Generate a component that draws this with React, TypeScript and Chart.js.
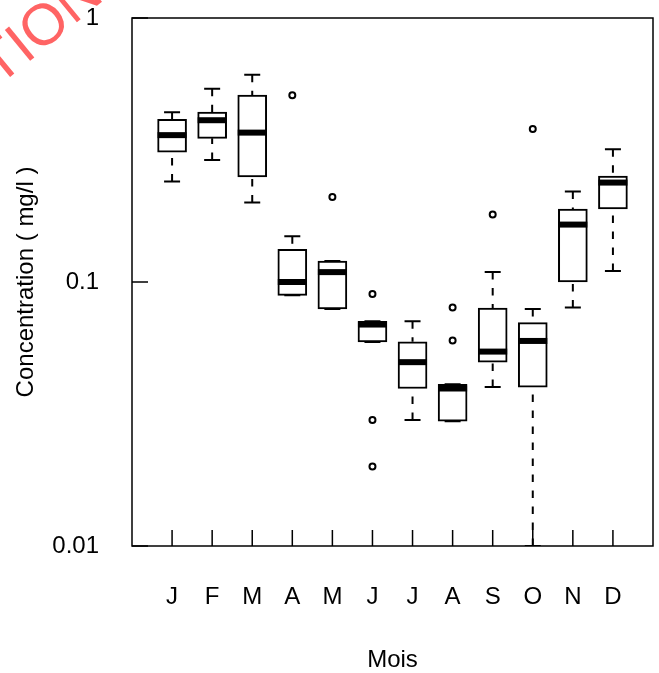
import { useEffect, useRef } from 'react';
import { Chart, registerables } from 'chart.js';

Chart.register(...registerables);

// Monthly concentration summary (five-number summaries per month, mg/l)
const months = ['J', 'F', 'M', 'A', 'M', 'J', 'J', 'A', 'S', 'O', 'N', 'D'];
const whiskerHigh = [0.44, 0.54, 0.61, 0.149, 0.12, 0.071, 0.071, 0.041, 0.109, 0.079, 0.22, 0.318];
const upperQuartile = [0.413, 0.44, 0.51, 0.133, 0.12, 0.071, 0.0594, 0.041, 0.0797, 0.0702, 0.189, 0.252];
const medians = [0.36, 0.41, 0.368, 0.1, 0.109, 0.069, 0.0497, 0.0395, 0.0545, 0.0598, 0.165, 0.238];
const lowerQuartile = [0.31, 0.35, 0.25, 0.089, 0.079, 0.0593, 0.0395, 0.0297, 0.0497, 0.04, 0.1, 0.189];
const whiskerLow = [0.24, 0.29, 0.2, 0.089, 0.079, 0.0593, 0.03, 0.0297, 0.04, 0.01, 0.08, 0.11];

// Outliers: month number (1-12) and value
const outlierMonth = [4, 5, 6, 6, 6, 8, 8, 9, 10];
const outlierValue = [0.51, 0.21, 0.09, 0.03, 0.02, 0.08, 0.06, 0.18, 0.38];

const yTickValues = [0.01, 0.1, 1];
const yTickLabels = ['0.01', '0.1', '1'];
const yTitle = 'Concentration ( mg/l )';
const xTitle = 'Mois';
const stampText = 'TION';

const FONT = '"Liberation Sans", Arial, Helvetica, sans-serif';
const FONT_SIZE = 24;

const boxplotExtras = {
  id: 'boxplotExtras',
  beforeDatasetsDraw(chart: any) {
    const { ctx, chartArea, scales } = chart;
    const x = scales.x;
    const y = scales.y;
    ctx.save();
    ctx.beginPath();
    ctx.rect(chartArea.left, chartArea.top, chartArea.right - chartArea.left, chartArea.bottom - chartArea.top);
    ctx.clip();
    ctx.strokeStyle = '#000';
    ctx.lineWidth = 2;
    ctx.setLineDash([7.5, 8.5]);
    months.forEach((_, i) => {
      const px = x.getPixelForValue(i + 1);
      // whiskers run from their end toward the box
      if (whiskerHigh[i] > upperQuartile[i]) {
        ctx.beginPath();
        ctx.moveTo(px, y.getPixelForValue(whiskerHigh[i]));
        ctx.lineTo(px, y.getPixelForValue(upperQuartile[i]));
        ctx.stroke();
      }
      if (whiskerLow[i] < lowerQuartile[i]) {
        ctx.beginPath();
        ctx.moveTo(px, y.getPixelForValue(whiskerLow[i]));
        ctx.lineTo(px, y.getPixelForValue(lowerQuartile[i]));
        ctx.stroke();
      }
    });
    ctx.restore();
  },
  afterDatasetsDraw(chart: any) {
    const { ctx, chartArea, scales } = chart;
    const x = scales.x;
    const y = scales.y;
    const boxHalf = 14.5;
    const capHalf = 8;
    ctx.save();
    ctx.beginPath();
    ctx.rect(chartArea.left, chartArea.top, chartArea.right - chartArea.left, chartArea.bottom - chartArea.top);
    ctx.clip();
    ctx.strokeStyle = '#000';
    months.forEach((_, i) => {
      const px = x.getPixelForValue(i + 1);
      // staples
      ctx.lineWidth = 2;
      ctx.beginPath();
      const hi = y.getPixelForValue(whiskerHigh[i]);
      const lo = y.getPixelForValue(whiskerLow[i]);
      ctx.moveTo(px - capHalf, hi);
      ctx.lineTo(px + capHalf, hi);
      ctx.moveTo(px - capHalf, lo);
      ctx.lineTo(px + capHalf, lo);
      ctx.stroke();
      // median bar
      ctx.lineWidth = 6;
      const my = y.getPixelForValue(medians[i]);
      ctx.beginPath();
      ctx.moveTo(px - boxHalf, my);
      ctx.lineTo(px + boxHalf, my);
      ctx.stroke();
    });
    ctx.restore();
  },
  afterDraw(chart: any) {
    const { ctx, chartArea, scales } = chart;
    const x = scales.x;
    const y = scales.y;
    const { left, right, top, bottom } = chartArea;
    ctx.save();
    ctx.strokeStyle = '#000';
    ctx.lineWidth = 1.5;
    ctx.strokeRect(left, top, right - left, bottom - top);
    // inward tick marks
    const tickLen = 16;
    ctx.beginPath();
    months.forEach((_, i) => {
      const px = x.getPixelForValue(i + 1);
      ctx.moveTo(px, bottom);
      ctx.lineTo(px, bottom - tickLen);
    });
    yTickValues.forEach((v) => {
      const py = y.getPixelForValue(v);
      ctx.moveTo(left, py);
      ctx.lineTo(left + tickLen, py);
    });
    ctx.stroke();

    // red stamp in the upper-left corner
    ctx.fillStyle = '#ff6464';
    ctx.font = `58px ${FONT}`;
    ctx.textAlign = 'left';
    ctx.textBaseline = 'alphabetic';
    ctx.translate(-1.5, 86.6);
    ctx.rotate(-0.686);
    ctx.fillText(stampText, 0, 0);
    ctx.restore();
  },
};

export default function App() {
  const canvasRef = useRef<HTMLCanvasElement | null>(null);

  useEffect(() => {
    const canvas = canvasRef.current;
    if (!canvas) return;

    const boxData = months.map((_, i) => ({ x: i + 1, y: [lowerQuartile[i], upperQuartile[i]] }));
    const outlierData = outlierMonth.map((m, i) => ({ x: m, y: outlierValue[i] }));

    const chart = new Chart(canvas, {
      type: 'bar',
      data: {
        datasets: [
          {
            type: 'bar',
            data: boxData as any,
            backgroundColor: '#ffffff',
            borderColor: '#000000',
            borderWidth: 2,
            borderSkipped: false,
            barThickness: 29,
            grouped: false,
          } as any,
          {
            type: 'scatter',
            data: outlierData,
            pointStyle: 'circle',
            pointRadius: 3,
            pointBorderWidth: 2,
            pointBackgroundColor: '#ffffff',
            pointBorderColor: '#000000',
            showLine: false,
          } as any,
        ],
      },
      options: {
        responsive: false,
        animation: false,
        devicePixelRatio: 1,
        layout: { padding: { top: 18, right: 6, left: 0, bottom: 0 } },
        plugins: {
          legend: { display: false },
          tooltip: { enabled: false },
        },
        scales: {
          x: {
            type: 'linear',
            min: 0,
            max: 13,
            offset: false,
            grid: { display: false, drawTicks: false },
            border: { display: false },
            afterBuildTicks: (scale: any) => {
              scale.ticks = months.map((_, i) => ({ value: i + 1 }));
            },
            afterFit: (scale: any) => {
              scale.height = 127;
              scale.paddingLeft = 0;
              scale.paddingRight = 0;
            },
            ticks: {
              autoSkip: false,
              maxRotation: 0,
              padding: 37,
              color: '#000',
              font: { family: FONT, size: FONT_SIZE },
              callback: (_v: any, index: number) => months[index],
            },
            title: {
              display: true,
              text: xTitle,
              color: '#000',
              font: { family: FONT, size: FONT_SIZE },
              padding: { top: 0, bottom: -2 },
            },
          },
          y: {
            type: 'logarithmic',
            min: 0.01,
            max: 1,
            grid: { display: false, drawTicks: false },
            border: { display: false },
            afterBuildTicks: (scale: any) => {
              scale.ticks = yTickValues.map((v) => ({ value: v }));
            },
            afterFit: (scale: any) => {
              scale.width = 132;
              scale.paddingTop = 0;
              scale.paddingBottom = 0;
            },
            ticks: {
              padding: 33,
              color: '#000',
              font: { family: FONT, size: FONT_SIZE },
              callback: (_v: any, index: number) => yTickLabels[index],
            },
            title: {
              display: true,
              text: yTitle,
              color: '#000',
              font: { family: FONT, size: FONT_SIZE },
              padding: { top: 11.6, bottom: 0 },
            },
          },
        },
      } as any,
      plugins: [boxplotExtras],
    });

    return () => chart.destroy();
  }, []);

  return (
    <div style={{ position: 'absolute', left: 0, top: 0, width: 659, height: 673, background: '#fff' }}>
      <canvas ref={canvasRef} width={659} height={673} style={{ display: 'block' }} />
    </div>
  );
}
